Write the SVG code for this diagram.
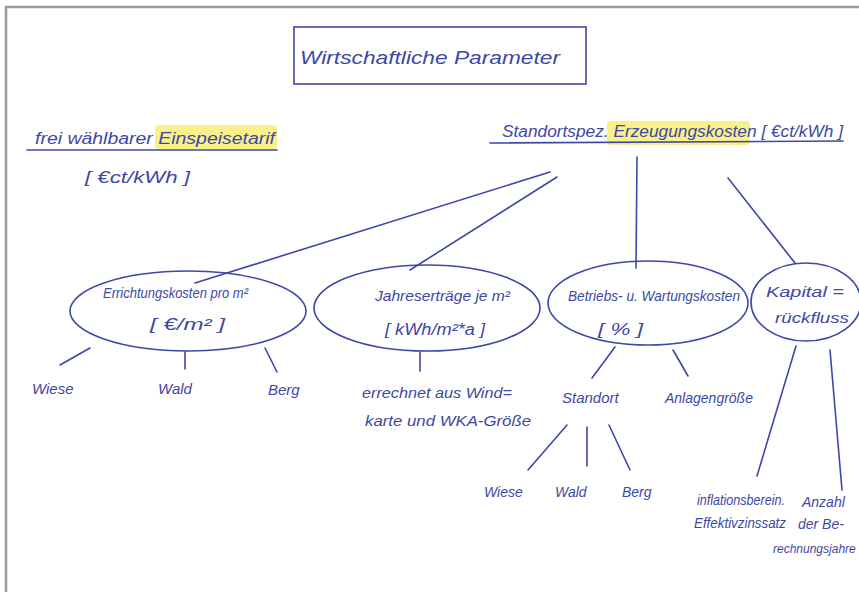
<svg xmlns="http://www.w3.org/2000/svg" width="859" height="592" viewBox="0 0 859 592">
<style>
.ink{fill:none;stroke:#3d47a6;stroke-width:1.6;stroke-linecap:round}
.t{font-family:"Liberation Sans","DejaVu Sans",sans-serif;font-style:italic;fill:#3d47a6}
.s12{font-size:12px}
.s14{font-size:14px}
.s15{font-size:15px}
.s16{font-size:16px}
.s18{font-size:19px}
.hl{fill:#f6ee6c;opacity:0.8}
</style>
<rect x="0" y="0" width="859" height="592" fill="#ffffff"/>
<rect x="6" y="7" width="900" height="620" fill="#ffffff" stroke="#9a9a9a" stroke-width="2.5"/>

<g id="title">
<rect x="294" y="27" width="292" height="57" class="ink"/>
<text class="t s18" x="300" y="64" textLength="260" lengthAdjust="spacingAndGlyphs">Wirtschaftliche   Parameter</text>
</g>

<g id="einspeisetarif">
<rect class="hl" x="155" y="125" width="122" height="24" rx="4"/>
<text class="t s16" x="35" y="144" textLength="240" lengthAdjust="spacingAndGlyphs">frei wählbarer Einspeisetarif</text>
<line class="ink" x1="27" y1="150" x2="277" y2="150"/>
<text class="t s16" x="85" y="183" textLength="105" lengthAdjust="spacingAndGlyphs">[ €ct/kWh ]</text>
</g>

<g id="erzeugungskosten">
<rect class="hl" x="607" y="121" width="143" height="24" rx="4"/>
<text class="t s16" x="502" y="137" textLength="341" lengthAdjust="spacingAndGlyphs">Standortspez.  Erzeugungskosten  [ €ct/kWh ]</text>
<line class="ink" x1="490" y1="143" x2="843" y2="141"/>
</g>

<g id="connectors">
<line class="ink" x1="550" y1="172" x2="195" y2="283"/>
<line class="ink" x1="557" y1="177" x2="410" y2="270"/>
<line class="ink" x1="637" y1="157" x2="636" y2="268"/>
<line class="ink" x1="728" y1="178" x2="795" y2="263"/>
<line class="ink" x1="90" y1="348" x2="60" y2="365"/>
<line class="ink" x1="185" y1="352" x2="185" y2="369"/>
<line class="ink" x1="265" y1="348" x2="277" y2="372"/>
<line class="ink" x1="420" y1="352" x2="420" y2="371"/>
<line class="ink" x1="615" y1="347" x2="592" y2="378"/>
<line class="ink" x1="673" y1="350" x2="688" y2="376"/>
<line class="ink" x1="567" y1="425" x2="528" y2="470"/>
<line class="ink" x1="587" y1="427" x2="587" y2="466"/>
<line class="ink" x1="609" y1="425" x2="630" y2="470"/>
<line class="ink" x1="796" y1="346" x2="757" y2="476"/>
<line class="ink" x1="830" y1="350" x2="842" y2="490"/>
</g>

<g id="errichtungskosten">
<ellipse class="ink" cx="188" cy="311" rx="118" ry="40"/>
<text class="t s15" x="103" y="298" textLength="145" lengthAdjust="spacingAndGlyphs">Errichtungskosten  pro  m²</text>
<text class="t s16" x="150" y="330" textLength="75" lengthAdjust="spacingAndGlyphs">[ €/m² ]</text>
</g>

<g id="jahresertraege">
<ellipse class="ink" cx="427" cy="308" rx="113" ry="43"/>
<text class="t s15" x="375" y="301" textLength="135" lengthAdjust="spacingAndGlyphs">Jahreserträge je m²</text>
<text class="t s16" x="385" y="335" textLength="100" lengthAdjust="spacingAndGlyphs">[ kWh/m²*a ]</text>
</g>

<g id="betriebskosten">
<ellipse class="ink" cx="648" cy="303" rx="100" ry="42"/>
<text class="t s15" x="568" y="301" textLength="172" lengthAdjust="spacingAndGlyphs">Betriebs- u. Wartungskosten</text>
<text class="t s16" x="598" y="335" textLength="45" lengthAdjust="spacingAndGlyphs">[ % ]</text>
</g>

<g id="kapitalrueckfluss">
<ellipse class="ink" cx="806" cy="302" rx="55" ry="39"/>
<text class="t s15" x="766" y="297" textLength="78" lengthAdjust="spacingAndGlyphs">Kapital =</text>
<text class="t s15" x="775" y="323" textLength="74" lengthAdjust="spacingAndGlyphs">rückfluss</text>
</g>

<g id="wiese1"><text class="t s15" x="32" y="394">Wiese</text></g>
<g id="wald1"><text class="t s15" x="158" y="394">Wald</text></g>
<g id="berg1"><text class="t s15" x="268" y="395">Berg</text></g>

<g id="windkarte">
<text class="t s15" x="362" y="398" textLength="150" lengthAdjust="spacingAndGlyphs">errechnet aus Wind=</text>
<text class="t s15" x="365" y="426" textLength="166" lengthAdjust="spacingAndGlyphs">karte und WKA-Größe</text>
</g>

<g id="standort"><text class="t s15" x="562" y="403">Standort</text></g>
<g id="anlagengroesse"><text class="t s14" x="665" y="403">Anlagengröße</text></g>

<g id="wiese2"><text class="t s14" x="484" y="497">Wiese</text></g>
<g id="wald2"><text class="t s14" x="555" y="497">Wald</text></g>
<g id="berg2"><text class="t s14" x="622" y="497">Berg</text></g>

<g id="zinssatz">
<text class="t s14" x="697" y="505" textLength="88" lengthAdjust="spacingAndGlyphs">inflationsberein.</text>
<text class="t s14" x="694" y="528" textLength="92" lengthAdjust="spacingAndGlyphs">Effektivzinssatz</text>
</g>

<g id="berechnungsjahre">
<text class="t s14" x="802" y="507">Anzahl</text>
<text class="t s14" x="798" y="529">der Be-</text>
<text class="t s12" x="773" y="553">rechnungsjahre</text>
</g>
</svg>
